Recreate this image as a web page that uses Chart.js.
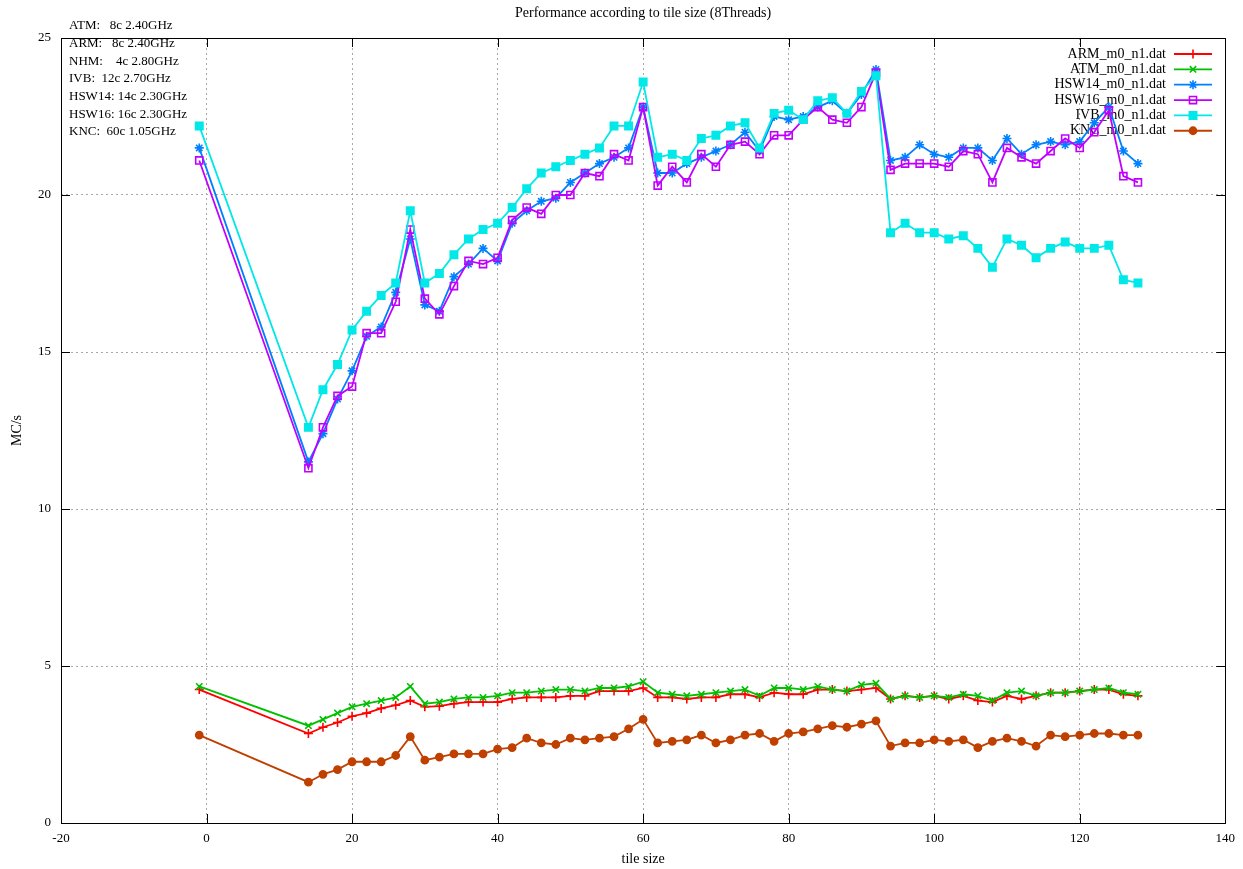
<!DOCTYPE html>
<html>
<head>
<meta charset="utf-8">
<script src="https://cdn.jsdelivr.net/npm/chart.js@4.4.1/dist/chart.umd.min.js"></script>
<style>
  html, body { margin: 0; padding: 0; background: #ffffff; }
  #wrap { width: 1243px; height: 869px; }
</style>
</head>
<body>
<div id="wrap"><canvas id="perf" width="1243" height="869"></canvas></div>
<script>
// Tile sizes measured
const tileSizes = [
  -1, 14, 16, 18, 20, 22, 24, 26, 28, 30,
  32, 34, 36, 38, 40, 42, 44, 46, 48, 50,
  52, 54, 56, 58, 60, 62, 64, 66, 68, 70,
  72, 74, 76, 78, 80, 82, 84, 86, 88, 90,
  92, 94, 96, 98, 100, 102, 104, 106, 108, 110,
  112, 114, 116, 118, 120, 122, 124, 126, 128
];

// Throughput (MC/s) per machine
const armValues = [
  4.25, 2.85, 3.05, 3.2, 3.4, 3.5, 3.65, 3.75, 3.9, 3.7,
  3.72, 3.8, 3.85, 3.85, 3.85, 3.95, 4.0, 4.0, 4.0, 4.05,
  4.05, 4.2, 4.2, 4.2, 4.3, 4.0, 4.0, 3.95, 4.0, 4.0,
  4.1, 4.1, 4.0, 4.15, 4.1, 4.1, 4.25, 4.25, 4.2, 4.25,
  4.3, 3.95, 4.05, 4.0, 4.05, 3.95, 4.05, 3.9, 3.85, 4.05,
  3.95, 4.05, 4.15, 4.15, 4.2, 4.25, 4.25, 4.1, 4.05
];
const atmValues = [
  4.35, 3.1, 3.3, 3.5, 3.7, 3.8, 3.9, 4.0, 4.35, 3.8,
  3.85, 3.95, 4.0, 4.0, 4.05, 4.15, 4.15, 4.2, 4.25, 4.25,
  4.2, 4.3, 4.3, 4.35, 4.5, 4.15, 4.1, 4.05, 4.1, 4.15,
  4.2, 4.25, 4.05, 4.3, 4.3, 4.25, 4.35, 4.25, 4.2, 4.4,
  4.45, 3.95, 4.05, 4.0, 4.05, 4.0, 4.1, 4.05, 3.9, 4.15,
  4.2, 4.05, 4.15, 4.15, 4.2, 4.25, 4.3, 4.15, 4.1
];
const hsw14Values = [
  21.5, 11.5, 12.4, 13.5, 14.4, 15.5, 15.8, 16.9, 18.6, 16.5,
  16.3, 17.4, 17.8, 18.3, 17.9, 19.1, 19.5, 19.8, 19.9, 20.4,
  20.7, 21.0, 21.2, 21.5, 22.8, 20.7, 20.7, 21.0, 21.2, 21.4,
  21.6, 22.0, 21.4, 22.5, 22.4, 22.5, 22.8, 23.0, 22.6, 23.2,
  24.0, 21.1, 21.2, 21.6, 21.3, 21.2, 21.5, 21.5, 21.1, 21.8,
  21.3, 21.6, 21.7, 21.6, 21.7, 22.3, 22.8, 21.4, 21.0
];
const hsw16Values = [
  21.1, 11.3, 12.6, 13.6, 13.9, 15.6, 15.6, 16.6, 18.9, 16.7,
  16.2, 17.1, 17.9, 17.8, 18.0, 19.2, 19.6, 19.4, 20.0, 20.0,
  20.7, 20.6, 21.3, 21.1, 22.8, 20.3, 20.9, 20.4, 21.3, 20.9,
  21.6, 21.7, 21.3, 21.9, 21.9, 22.4, 22.8, 22.4, 22.3, 22.8,
  23.9, 20.8, 21.0, 21.0, 21.0, 20.9, 21.4, 21.3, 20.4, 21.5,
  21.2, 21.0, 21.4, 21.8, 21.5, 22.0, 22.7, 20.6, 20.4
];
const ivbValues = [
  22.2, 12.6, 13.8, 14.6, 15.7, 16.3, 16.8, 17.2, 19.5, 17.2,
  17.5, 18.1, 18.6, 18.9, 19.1, 19.6, 20.2, 20.7, 20.9, 21.1,
  21.3, 21.5, 22.2, 22.2, 23.6, 21.2, 21.3, 21.1, 21.8, 21.9,
  22.2, 22.3, 21.5, 22.6, 22.7, 22.4, 23.0, 23.1, 22.6, 23.3,
  23.8, 18.8, 19.1, 18.8, 18.8, 18.6, 18.7, 18.3, 17.7, 18.6,
  18.4, 18.0, 18.3, 18.5, 18.3, 18.3, 18.4, 17.3, 17.2
];
const kncValues = [
  2.8, 1.3, 1.55, 1.7, 1.95, 1.95, 1.95, 2.15, 2.75, 2.0,
  2.1, 2.2, 2.2, 2.2, 2.35, 2.4, 2.7, 2.55, 2.5, 2.7,
  2.65, 2.7, 2.75, 3.0, 3.3, 2.55, 2.6, 2.65, 2.8, 2.55,
  2.65, 2.8, 2.85, 2.6, 2.85, 2.9, 3.0, 3.1, 3.05, 3.15,
  3.25, 2.45, 2.55, 2.55, 2.65, 2.6, 2.65, 2.4, 2.6, 2.7,
  2.6, 2.45, 2.8, 2.75, 2.8, 2.85, 2.85, 2.8, 2.8
];

const seriesNames = [
  'ARM_m0_n1.dat', 'ATM_m0_n1.dat', 'HSW14_m0_n1.dat',
  'HSW16_m0_n1.dat', 'IVB_m0_n1.dat', 'KNC_m0_n1.dat'
];
const machineNotes = [
  'ATM:   8c 2.40GHz',
  'ARM:   8c 2.40GHz',
  'NHM:    4c 2.80GHz',
  'IVB:  12c 2.70GHz',
  'HSW14: 14c 2.30GHz',
  'HSW16: 16c 2.30GHz',
  'KNC:  60c 1.05GHz'
];
const chartTitle = 'Performance according to tile size (8Threads)';
const xTitle = 'tile size';
const yTitle = 'MC/s';

const FONT_FAMILY = '"Liberation Serif", "DejaVu Serif", serif';
const FONT_SIZE = 13;
const LABEL_SIZE = 14;

function toPoints(values) {
  return values.map((v, i) => ({ x: tileSizes[i], y: v }));
}

const styles = [
  { color: '#ff0000', pointStyle: 'cross',    radius: 4.5, fill: false },
  { color: '#00c000', pointStyle: 'crossRot', radius: 4.5, fill: false },
  { color: '#0080ff', pointStyle: 'star',     radius: 4.5, fill: false },
  { color: '#c000ff', pointStyle: 'rect',     radius: 5,   fill: false },
  { color: '#00e8e8', pointStyle: 'rect',     radius: 5.2, fill: true  },
  { color: '#c04000', pointStyle: 'circle',   radius: 3.6, fill: true  }
];
const valueSets = [armValues, atmValues, hsw14Values, hsw16Values, ivbValues, kncValues];

const datasets = valueSets.map((vals, i) => ({
  label: seriesNames[i],
  data: toPoints(vals),
  borderColor: styles[i].color,
  backgroundColor: styles[i].fill ? styles[i].color : 'rgba(0,0,0,0)',
  borderWidth: 1.8,
  pointStyle: styles[i].pointStyle,
  pointRadius: styles[i].radius,
  pointBorderWidth: 1.6,
  pointBorderColor: styles[i].color,
  pointBackgroundColor: styles[i].fill ? styles[i].color : 'rgba(0,0,0,0)',
  tension: 0,
  fill: false,
  order: valueSets.length - i
}));

// Gnuplot-like frame: key, inward tick marks, border, title, notes
const gnuFrame = {
  id: 'gnuFrame',
  beforeDatasetsDraw(chart) {
    const ctx = chart.ctx;
    ctx.save();
    ctx.font = LABEL_SIZE + 'px ' + FONT_FAMILY;
    ctx.textAlign = 'right';
    ctx.textBaseline = 'middle';
    chart.data.datasets.forEach((ds, i) => {
      const y = 54 + i * 15.35;
      ctx.fillStyle = '#000';
      ctx.fillText(ds.label, 1166, y);
      ctx.strokeStyle = ds.borderColor;
      ctx.lineWidth = ds.borderWidth;
      ctx.beginPath();
      ctx.moveTo(1174, y);
      ctx.lineTo(1212, y);
      ctx.stroke();
      ctx.fillStyle = ds.pointBackgroundColor;
      ctx.strokeStyle = ds.pointBorderColor;
      ctx.lineWidth = ds.pointBorderWidth;
      Chart.helpers.drawPoint(ctx, {
        pointStyle: ds.pointStyle, rotation: 0,
        radius: ds.pointRadius, borderWidth: ds.pointBorderWidth
      }, 1193, y);
    });
    ctx.restore();
  },
  afterDraw(chart) {
    const ctx = chart.ctx;
    const a = chart.chartArea;
    const xs = chart.scales.x, ys = chart.scales.y;
    const tick = 9;
    ctx.save();
    ctx.strokeStyle = '#000';
    ctx.lineWidth = 1;
    ctx.beginPath();
    xs.ticks.forEach(t => {
      const px = Math.round(xs.getPixelForValue(t.value)) + 0.5;
      ctx.moveTo(px, a.bottom); ctx.lineTo(px, a.bottom - tick);
      ctx.moveTo(px, a.top); ctx.lineTo(px, a.top + tick);
    });
    ys.ticks.forEach(t => {
      const py = Math.round(ys.getPixelForValue(t.value)) + 0.5;
      ctx.moveTo(a.left, py); ctx.lineTo(a.left + tick, py);
      ctx.moveTo(a.right, py); ctx.lineTo(a.right - tick, py);
    });
    ctx.stroke();
    ctx.strokeRect(Math.round(a.left) + 0.5, Math.round(a.top) + 0.5,
                   Math.round(a.right - a.left), Math.round(a.bottom - a.top));

    ctx.fillStyle = '#000';
    ctx.textBaseline = 'middle';
    ctx.textAlign = 'center';
    ctx.font = LABEL_SIZE + 'px ' + FONT_FAMILY;
    ctx.fillText(chartTitle, (a.left + a.right) / 2, 13);
    ctx.textAlign = 'left';
    ctx.font = FONT_SIZE + 'px ' + FONT_FAMILY;
    machineNotes.forEach((s, i) => ctx.fillText(s, 69, 25.7 + i * 17.7));
    ctx.restore();
  }
};

new Chart(document.getElementById('perf'), {
  type: 'line',
  data: { datasets },
  plugins: [gnuFrame],
  options: {
    responsive: false,
    animation: false,
    events: [],
    layout: { padding: { top: 38, right: 17, left: 0, bottom: 0 } },
    plugins: {
      legend: { display: false },
      title: { display: false },
      tooltip: { enabled: false }
    },
    scales: {
      x: {
        type: 'linear',
        min: -20, max: 140,
        afterFit(scale) { scale.height = 46; },
        ticks: {
          stepSize: 20, color: '#000', padding: 8, maxRotation: 0,
          font: { family: FONT_FAMILY, size: FONT_SIZE }
        },
        grid: { color: '#a8a8a8', lineWidth: 1, drawTicks: false },
        border: { display: false, dash: [2, 3] },
        title: {
          display: true, text: xTitle, color: '#000',
          font: { family: FONT_FAMILY, size: LABEL_SIZE },
          padding: { top: 0, bottom: 1 }
        }
      },
      y: {
        type: 'linear',
        min: 0, max: 25,
        afterFit(scale) { scale.width = 61; },
        ticks: {
          stepSize: 5, color: '#000', padding: 10,
          font: { family: FONT_FAMILY, size: FONT_SIZE }
        },
        grid: { color: '#a8a8a8', lineWidth: 1, drawTicks: false },
        border: { display: false, dash: [2, 3] },
        title: {
          display: true, text: yTitle, color: '#000',
          font: { family: FONT_FAMILY, size: LABEL_SIZE },
          padding: { top: 9, bottom: 0 }
        }
      }
    }
  }
});
</script>
</body>
</html>
